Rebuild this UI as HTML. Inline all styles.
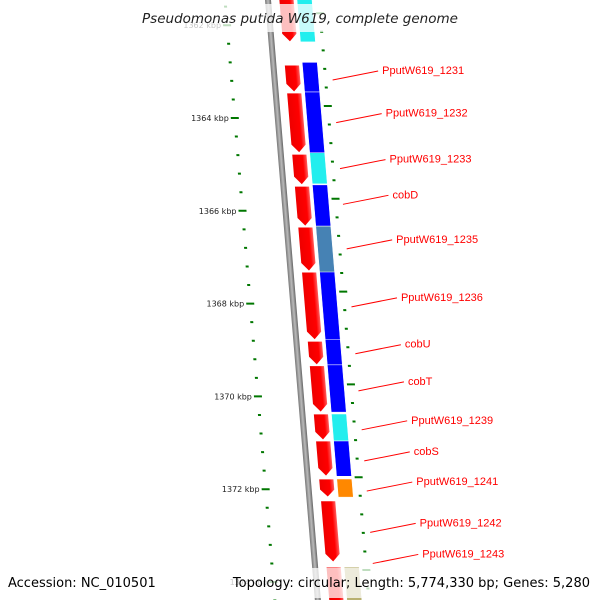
<!DOCTYPE html>
<html><head><meta charset="utf-8"><style>
html,body{margin:0;padding:0;background:#fff;}
svg{display:block;font-family:"DejaVu Sans","Liberation Sans",sans-serif;}
</style></head><body>
<svg id="chart" width="600" height="600" viewBox="0 0 600 600">
<defs>
<linearGradient id="bb" x1="0" x2="1" y1="0" y2="0"><stop offset="0" stop-color="#777"/><stop offset="0.5" stop-color="#bbb"/><stop offset="1" stop-color="#666"/></linearGradient>
<linearGradient id="rg" x1="0" x2="1"><stop offset="0" stop-color="#e00"/><stop offset="0.7" stop-color="#f00"/><stop offset="1" stop-color="#f66"/></linearGradient>
</defs>
<g id="skew" transform="translate(268,0) skewX(4.75)"></g>
<g id="labels"></g>
<rect x="135" y="4" width="330" height="28" fill="#fff" fill-opacity="0.75"/>
<text x="300" y="23" text-anchor="middle" font-size="13.5" font-style="italic" fill="#222">Pseudomonas putida W619, complete genome</text>
<rect x="0" y="568" width="600" height="30" fill="#fff" fill-opacity="0.75"/>
<text x="8" y="587" font-size="13" fill="#000">Accession: NC_010501</text>
<text x="590" y="587" text-anchor="end" font-size="13" fill="#000">Topology: circular; Length: 5,774,330 bp; Genes: 5,280</text>
</svg>
<script>
const redStarts=[1361.03,1362.86,1363.46,1364.78,1365.47,1366.35,1367.32,1368.81,1369.34,1370.38,1370.96,1371.78,1372.25,1373.68];
const redEnds=[1362.36,1363.44,1364.75,1365.44,1366.33,1367.30,1368.78,1369.32,1370.34,1370.94,1371.72,1372.17,1373.57,1374.82];
const cogStarts=[1361.03,1362.80,1363.44,1364.75,1365.44,1366.33,1367.32,1368.78,1369.32,1370.38,1370.96,1371.78,1373.68];
const cogEnds=[1362.36,1363.44,1364.75,1365.42,1366.33,1367.33,1368.78,1369.32,1370.34,1370.96,1371.72,1372.17,1374.82];
const cogColors=['#2ee','#00f','#00f','#2ee','#00f','#4682b4','#00f','#00f','#00f','#2ee','#00f','#f80','#b8b070'];
const labelNames=['PputW619_1231','PputW619_1232','PputW619_1233','cobD','PputW619_1235','PputW619_1236','cobU','cobT','PputW619_1239','cobS','PputW619_1241','PputW619_1242','PputW619_1243'];
const labelKbp=[1363.18,1364.10,1365.09,1365.86,1366.82,1368.07,1369.08,1369.88,1370.72,1371.39,1372.04,1372.93,1373.60];
const tickKbp=[1362,1364,1366,1368,1370,1372,1374];

const NS='http://www.w3.org/2000/svg';
const Y=k=>118+(k-1364)*46.4;
const BB=y=>268+y*0.083;
const sk=document.getElementById('skew'), lb=document.getElementById('labels');
function mk(tag,attrs,parent){const e=document.createElementNS(NS,tag);for(const a in attrs)e.setAttribute(a,attrs[a]);parent.appendChild(e);return e;}

let b=mk('rect',{x:-3,y:-10,width:6,height:620,fill:'url(#bb)'},sk);



for(let k=1361.2;k<=1375;k+=0.4){
  const kk=Math.round(k*10)/10;
  const major=Math.abs(kk/2-Math.round(kk/2))<0.01;
  const y=Y(kk);
  let t=mk('rect',{x:-43-(major?4:1.5),y:y-1,width:major?8:3,height:2,fill:'#070'},sk);
  
  
  let t2=mk('rect',{x:51-(major?4:1.5),y:y-13,width:major?8:3,height:2,fill:'#070'},sk);
  
  
}
tickKbp.forEach(k=>{
  const y=Y(k);
  let t=mk('text',{x:BB(y)-49,y:y+3,'text-anchor':'end','font-size':8,fill:'#222'},lb);
  t.textContent=k+' kbp';
  
  
});

redStarts.forEach((s,i)=>{
  const y0=Y(s),y1=Y(redEnds[i]);const ah=Math.min(8,(y1-y0)*0.4);
  const x0=11,x1=26,xm=18.5;
  let p=mk('polygon',{points:`${x0},${y0} ${x1},${y0} ${x1},${y1-ah} ${xm},${y1} ${x0},${y1-ah}`,fill:'url(#rg)',stroke:'#fff','stroke-width':0.8},sk);
  
  
});
cogStarts.forEach((s,i)=>{
  const y0=Y(s),y1=Y(cogEnds[i]);
  let r=mk('rect',{x:29,y:y0,width:15,height:y1-y0,fill:cogColors[i],stroke:'#fff','stroke-width':0.5},sk);
  
  
});
labelNames.forEach((n,i)=>{
  const y=Y(labelKbp[i]);
  const ty=y-6;
  const tx=BB(ty)+108;
  let l=mk('line',{x1:BB(y)+58,y1:y,x2:tx-4,y2:ty-3,stroke:'#f00','stroke-width':1},lb);
  
  
  let t=mk('text',{x:tx,y:ty,'font-size':11,'font-family':'"Liberation Sans",sans-serif',fill:'#f00'},lb);
  t.textContent=n;
  
  
});
</script>
</body></html>
